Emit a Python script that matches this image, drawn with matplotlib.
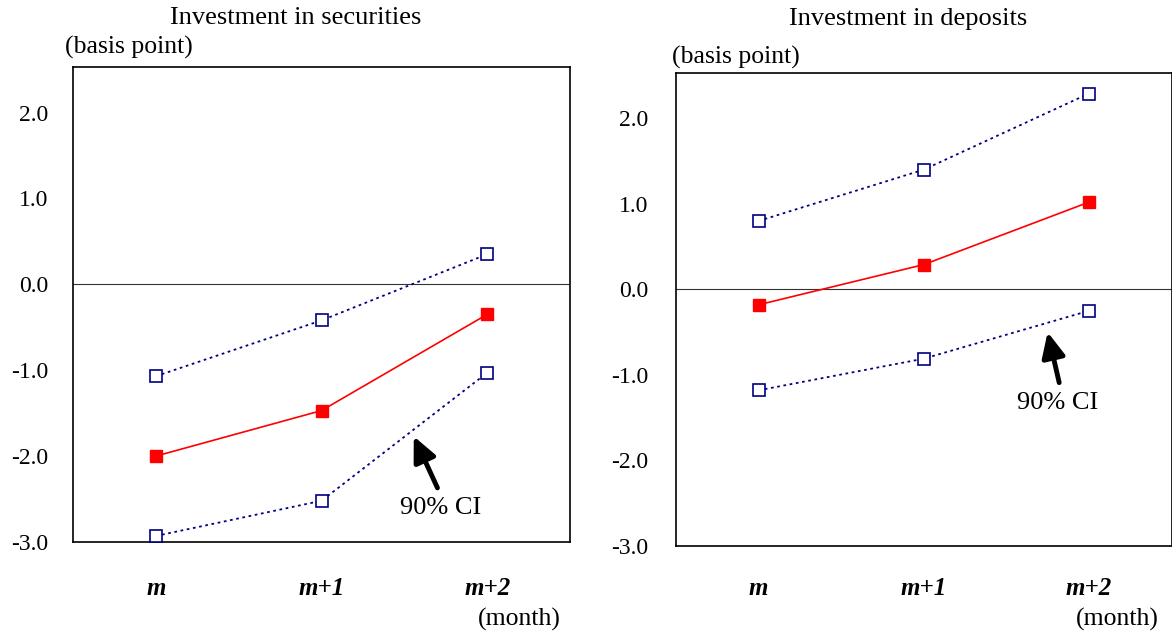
import matplotlib
matplotlib.use("Agg")
import matplotlib.pyplot as plt

plt.rcParams['font.family'] = ['Liberation Serif', 'DejaVu Serif']

categories = ["m", "m+1", "m+2"]
yticks = [2.0, 1.0, 0.0, -1.0, -2.0, -3.0]

sec_est = [-2.00, -1.47, -0.35]
sec_upper = [-1.07, -0.42, 0.35]
sec_lower = [-2.93, -2.52, -1.03]

dep_est = [-0.18, 0.29, 1.02]
dep_upper = [0.80, 1.40, 2.29]
dep_lower = [-1.18, -0.81, -0.25]

fig = plt.figure(figsize=(11.72, 6.33), dpi=100)
W, H = 1172, 633

def make_ax(x0, x1, y0, y1):
    return fig.add_axes([x0 / W, 1 - y1 / H, (x1 - x0) / W, (y1 - y0) / H])

panels = [
    dict(ax=make_ax(73, 570, 67, 542), est=sec_est, up=sec_upper, lo=sec_lower,
         title="Investment in securities", title_xy=(296, 18), bp_xy=(65, 47),
         month_xy=(519, 619), ypad=18, xpad=25,
         arrow_head=(1.557, -1.77), arrow_tail=(1.70, -2.37), ci_text=(1.72, -2.60)),
    dict(ax=make_ax(676, 1171.5, 73, 546), est=dep_est, up=dep_upper, lo=dep_lower,
         title="Investment in deposits", title_xy=(908, 19), bp_xy=(672, 57),
         month_xy=(1117, 619), ypad=20, xpad=22,
         arrow_head=(1.75, -0.50), arrow_tail=(1.82, -1.09), ci_text=(1.81, -1.33)),
]

for p in panels:
    ax = p['ax']
    x = list(range(len(categories)))
    ax.axhline(0, color='#333333', lw=0.8, zorder=1)
    for ci in (p['up'], p['lo']):
        ax.plot(x, ci, color='#000080', ls=(0, (1.5, 2.0)), lw=1.3,
                marker='s', ms=8, mfc='white', mec='#000080', mew=1.2, zorder=3)
    ax.plot(x, p['est'], color='red', lw=1.2, marker='s', ms=9,
            mfc='red', mec='red', zorder=4)
    ax.set_xlim(-0.5, 2.5)
    ax.set_ylim(-3.0, 2.53)
    ax.set_yticks(yticks)
    ax.set_yticklabels([f"{v:.1f}" for v in yticks], fontsize=17)
    ax.set_xticks(x)
    ax.set_xticklabels(categories, fontsize=18, fontweight='bold', fontstyle='italic')
    ax.tick_params(axis='y', length=0, pad=p['ypad'])
    ax.tick_params(axis='x', length=0, pad=p['xpad'])
    for s in ax.spines.values():
        s.set_linewidth(1.2)
        s.set_color('black')
    ax.annotate("", xy=p['arrow_head'], xytext=p['arrow_tail'],
                arrowprops=dict(arrowstyle='-|>,head_length=1.5,head_width=0.7',
                                color='black', lw=3.5, shrinkA=0, shrinkB=0))
    ax.text(p['ci_text'][0], p['ci_text'][1], "90% CI", ha='center', va='center', fontsize=19)
    fig.text(p['title_xy'][0] / W, 1 - p['title_xy'][1] / H, p['title'],
             ha='center', va='center', fontsize=19)
    fig.text(p['bp_xy'][0] / W, 1 - p['bp_xy'][1] / H, "(basis point)",
             ha='left', va='center', fontsize=18.5)
    fig.text(p['month_xy'][0] / W, 1 - p['month_xy'][1] / H, "(month)",
             ha='center', va='center', fontsize=18.5)

fig.savefig("out.png", dpi=100)
